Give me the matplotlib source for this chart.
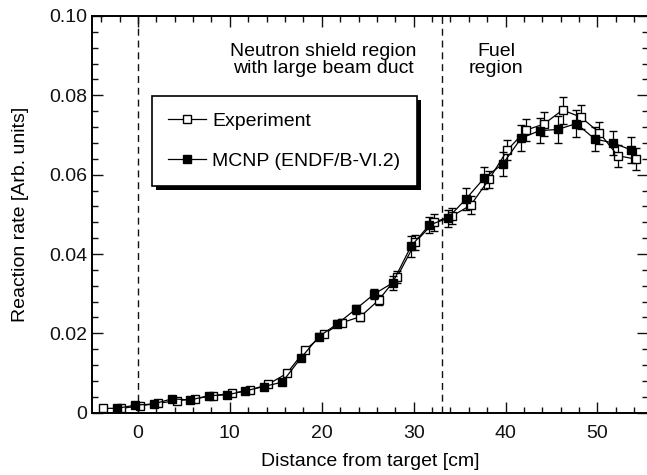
import matplotlib

matplotlib.use("Agg")
import matplotlib.pyplot as plt
from matplotlib.patches import Rectangle
from matplotlib.ticker import MultipleLocator

# measured reaction rate (open squares)
exp_x = [-3.8, -1.8, 0.2, 2.2, 4.2, 6.2, 8.2, 10.2, 12.2, 14.2, 16.2, 18.2, 20.2, 22.2, 24.2,
         26.2, 28.2, 30.2, 32.2, 34.2, 36.2, 38.2, 40.2, 42.2, 44.2, 46.2, 48.2, 50.2, 52.2, 54.2]
exp_y = [0.0011, 0.0011, 0.0017, 0.0024, 0.0030, 0.0035, 0.0043, 0.0049, 0.0057, 0.0072,
         0.0099, 0.0158, 0.0198, 0.0227, 0.0242, 0.0284, 0.0342, 0.0430, 0.0480, 0.0496,
         0.0523, 0.0588, 0.0662, 0.0712, 0.0728, 0.0763, 0.0745, 0.0706, 0.0648, 0.0639]
exp_err = [0.0002, 0.0002, 0.0002, 0.0002, 0.0003, 0.0003, 0.0003, 0.0003, 0.0004, 0.0004,
           0.0005, 0.0006, 0.0008, 0.0009, 0.0010, 0.0012, 0.0015, 0.0019, 0.0021, 0.0021,
           0.0022, 0.0022, 0.0026, 0.0028, 0.0031, 0.0034, 0.0031, 0.0028, 0.0028, 0.0027]

# MCNP calculation (filled squares)
mcnp_x = [-2.3, -0.3, 1.7, 3.7, 5.7, 7.7, 9.7, 11.7, 13.7, 15.7, 17.7, 19.7, 21.7, 23.7,
          25.7, 27.7, 29.7, 31.7, 33.7, 35.7, 37.7, 39.7, 41.7, 43.7, 45.7, 47.7, 49.7, 51.7, 53.7]
mcnp_y = [0.0011, 0.0019, 0.0022, 0.0035, 0.0032, 0.0043, 0.0045, 0.0055, 0.0066, 0.0077,
          0.0137, 0.0192, 0.0224, 0.0261, 0.0299, 0.0327, 0.0419, 0.0473, 0.0490, 0.0539,
          0.0592, 0.0627, 0.0692, 0.0711, 0.0714, 0.0729, 0.0690, 0.0680, 0.0662]
mcnp_err = [0.0002, 0.0002, 0.0002, 0.0003, 0.0003, 0.0003, 0.0003, 0.0004, 0.0004, 0.0005,
            0.0007, 0.0008, 0.0009, 0.0011, 0.0013, 0.0017, 0.0026, 0.0021, 0.0022, 0.0027,
            0.0027, 0.0030, 0.0032, 0.0031, 0.0034, 0.0035, 0.0031, 0.0031, 0.0032]

region_bounds = [0, 33.1]
region_labels = ["Neutron shield region\nwith large beam duct", "Fuel\nregion"]
region_label_x = [20.2, 39.0]

xticks = [0, 10, 20, 30, 40, 50]
yticks = [0, 0.02, 0.04, 0.06, 0.08, 0.10]
ytick_labels = ["0", "0.02", "0.04", "0.06", "0.08", "0.10"]

plt.rcParams["font.family"] = ["Liberation Sans", "DejaVu Sans"]
plt.rcParams["font.size"] = 14


def style_axes(ax):
    ax.set_xlim(-5, 55.5)
    ax.set_ylim(0, 0.10)
    ax.set_xticks(xticks)
    ax.set_yticks(yticks)
    ax.set_yticklabels(ytick_labels)
    ax.xaxis.set_minor_locator(MultipleLocator(2))
    ax.yaxis.set_minor_locator(MultipleLocator(0.004))
    ax.tick_params(which="both", direction="in", top=True, right=True, width=1.0, colors="#111")
    ax.tick_params(which="major", length=8)
    ax.tick_params(which="minor", length=4.3)
    ax.tick_params(axis="x", pad=8.5)
    ax.tick_params(axis="y", pad=3.5)
    for spine in ax.spines.values():
        spine.set_linewidth(1.4)
    ax.set_xlabel("Distance from target [cm]", labelpad=8)
    ax.set_ylabel("Reaction rate [Arb. units]", labelpad=14.5)


def main():
    fig = plt.figure(figsize=(6.47, 4.75), dpi=100)
    ax = fig.add_axes([92 / 647, 62.3 / 475, 556 / 647, 396.7 / 475])

    for xb in region_bounds:
        ax.axvline(xb, color="#111", lw=1.0, dashes=(5, 3.5), zorder=1)
    for label, lx in zip(region_labels, region_label_x):
        ax.text(lx, 0.0888, label, ha="center", va="center", linespacing=1.0, fontsize=14)

    common = dict(color="black", lw=0.9, capsize=3, elinewidth=0.9, capthick=0.9,
                  marker="s", markersize=6, markeredgewidth=1.0)
    ax.errorbar(exp_x, exp_y, yerr=exp_err, markerfacecolor="white",
                label="Experiment", zorder=3, **common)
    ax.errorbar(mcnp_x, mcnp_y, yerr=mcnp_err, markerfacecolor="black",
                label="MCNP (ENDF/B-VI.2)", zorder=4, **common)

    style_axes(ax)

    handles, labels = ax.get_legend_handles_labels()
    handles = [h[0] for h in handles]
    leg = ax.legend(handles, labels, loc="upper left", bbox_to_anchor=(0.1074, 0.798),
                    borderaxespad=0, frameon=True, fancybox=False, numpoints=1,
                    handlelength=1.95, handletextpad=0.3, labelspacing=1.13,
                    borderpad=0.85, fontsize=14)
    leg.get_frame().set_edgecolor("black")
    leg.get_frame().set_linewidth(1.2)
    leg.get_frame().set_alpha(1)
    leg.set_zorder(6)

    # solid black drop shadow behind the legend box
    fig.canvas.draw()
    bb = leg.get_frame().get_window_extent()
    shadow = Rectangle((bb.x0 + 4, bb.y0 - 4), bb.width, bb.height, transform=None,
                       facecolor="black", edgecolor="none", zorder=5)
    ax.add_artist(shadow)

    fig.savefig("out.png", dpi=100)
    plt.close(fig)


if __name__ == "__main__":
    main()
